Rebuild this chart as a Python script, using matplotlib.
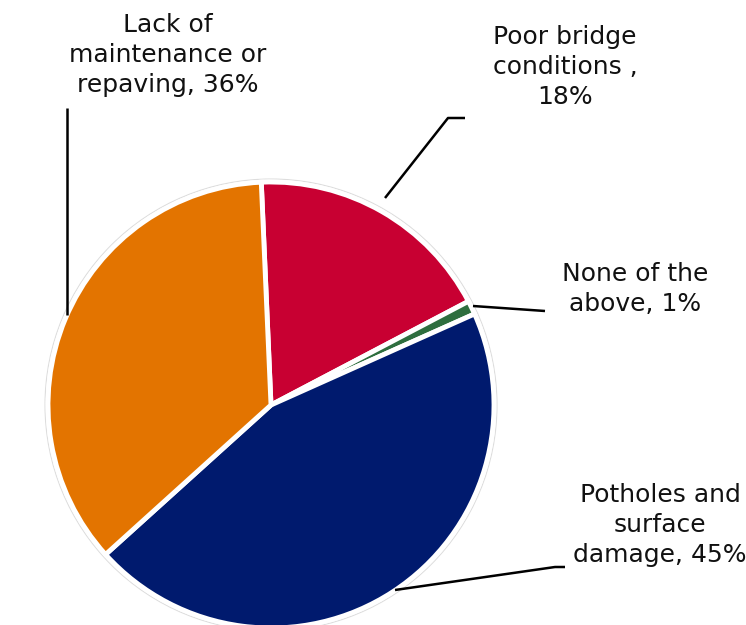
import matplotlib.pyplot as plt

# Data
labels = ['Poor bridge\nconditions ,\n18%', 'None of the\nabove, 1%',
          'Potholes and\nsurface\ndamage, 45%', 'Lack of\nmaintenance or\nrepaving, 36%']
values = [18, 1, 45, 36]
colors = ['#C80032', '#2E6E3E', '#001A6E', '#E37400']

W, H = 746, 625
fig = plt.figure(figsize=(W / 100, H / 100), dpi=100)
ax = fig.add_axes([0, 0, 1, 1])

cx, cy, r = 271, H - 405, 223

# faint outline round the pie
outline = plt.Circle((cx, cy), r + 3, fill=False, ec='#DDDDDD', lw=0.8)
ax.add_patch(outline)

ax.pie(values, colors=colors, startangle=92.5, counterclock=False,
       center=(cx, cy), radius=r, frame=True,
       wedgeprops=dict(edgecolor='white', linewidth=3.5))
ax.set_xlim(0, W)
ax.set_ylim(0, H)
ax.set_aspect('equal')
ax.axis('off')

font = dict(fontsize=18, family='DejaVu Sans', ha='center', va='center',
            linespacing=1.32, color='#111111')

# label positions (pixel coords, top-left origin) and leader lines
label_pos = [(565, 67), (635, 289), (660, 525), (168, 55)]
leaders = [
    [(385, 198), (448, 118), (465, 118)],
    [(473, 306), (545, 311)],
    [(395, 590), (555, 567), (565, 567)],
    [(67, 108), (67, 315)],
]

for lab, (x, y), pts in zip(labels, label_pos, leaders):
    ax.text(x, H - y, lab, **font)
    xs = [p[0] for p in pts]
    ys = [H - p[1] for p in pts]
    ax.plot(xs, ys, color='black', lw=1.8, solid_capstyle='butt')

fig.savefig('out.png', dpi=100)
